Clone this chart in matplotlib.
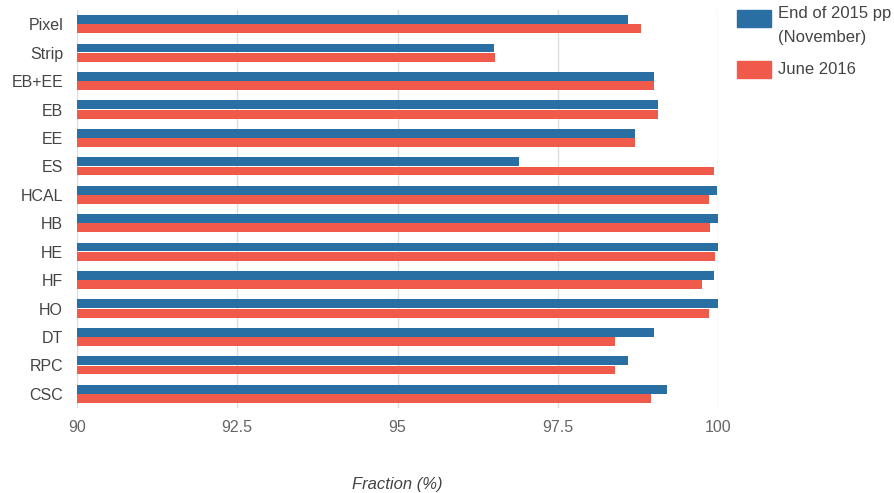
import numpy as np
import matplotlib.pyplot as plt
from matplotlib.patches import Rectangle

plt.rcParams['font.family'] = ['Liberation Sans', 'DejaVu Sans']

categories = ['Pixel', 'Strip', 'EB+EE', 'EB', 'EE', 'ES', 'HCAL',
              'HB', 'HE', 'HF', 'HO', 'DT', 'RPC', 'CSC']
end_2015 = [98.6, 96.5, 99.0, 99.07, 98.7, 96.9, 99.98,
            100.0, 100.0, 99.94, 100.0, 99.0, 98.6, 99.2]
june_2016 = [98.8, 96.52, 99.0, 99.07, 98.7, 99.94, 99.86,
             99.87, 99.96, 99.75, 99.86, 98.4, 98.4, 98.95]
series_labels = ['End of 2015 pp\n(November)', 'June 2016']
xticks = [90, 92.5, 95, 97.5, 100]

blue = '#2a6fa4'
red = '#f05a4b'
text_col = '#444444'

fig = plt.figure(figsize=(8.95, 4.93), dpi=100)
ax = fig.add_axes([77 / 895, (493 - 408) / 493, 641 / 895, 398 / 493])

y = np.arange(len(categories))
h = 0.31
ax.barh(y - h / 2 - 0.01, end_2015, height=h, color=blue, zorder=3)
ax.barh(y + h / 2 + 0.01, june_2016, height=h, color=red, zorder=3)

ax.set_xlim(90, 100)
ax.set_ylim(len(categories) - 0.5, -0.5)
ax.set_xticks(xticks)
ax.set_xticklabels(['90', '92.5', '95', '97.5', '100'])
ax.set_yticks(y)
ax.set_yticklabels(categories)
ax.tick_params(axis='both', length=0, labelsize=11.5, colors=text_col)
ax.tick_params(axis='x', pad=9)
ax.tick_params(axis='y', pad=10)
for lbl in ax.get_xticklabels():
    lbl.set_color('#666666')

ax.grid(axis='x', color='#dddddd', linewidth=1, zorder=0)
for s in ax.spines.values():
    s.set_visible(False)

fig.text(397 / 895, 1 - 484 / 493, 'Fraction (%)', fontsize=12, style='italic',
         color=text_col, ha='center', va='center')

# legend
fig.add_artist(Rectangle((737 / 895, 1 - 27 / 493), 34 / 895, 17 / 493,
                         transform=fig.transFigure, color=blue))
fig.add_artist(Rectangle((737 / 895, 1 - 78 / 493), 34 / 895, 17 / 493,
                         transform=fig.transFigure, color=red))
fig.text(778 / 895, 1 - 6 / 493, series_labels[0], fontsize=12, color=text_col,
         va='top', ha='left', linespacing=1.75)
fig.text(778 / 895, 1 - 70 / 493, series_labels[1], fontsize=12, color=text_col,
         va='center', ha='left')

fig.savefig('out.png', dpi=100)
